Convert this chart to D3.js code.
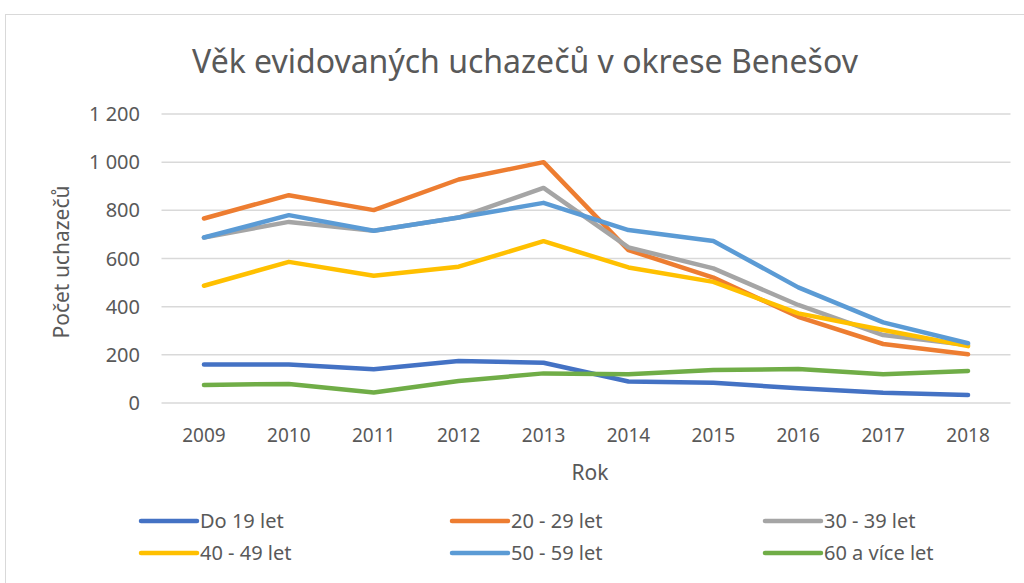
<!DOCTYPE html>
<html>
<head>
<meta charset="utf-8">
<script src="https://cdn.jsdelivr.net/npm/d3@7"></script>
<style>
  body { margin: 0; background: #fff; }
  svg { font-family: "Noto Sans", "Open Sans", sans-serif; }
</style>
</head>
<body>
<div id="chart"></div>
<script>
var years = ["2009","2010","2011","2012","2013","2014","2015","2016","2017","2018"];
var seriesNames = ["Do 19 let", "20 - 29 let", "30 - 39 let", "40 - 49 let", "50 - 59 let", "60 a více let"];
var do19  = [160, 160, 140, 174, 167, 89, 84, 61, 43, 33];
var v2029 = [766, 863, 801, 928, 1000, 635, 521, 358, 245, 202];
var v3039 = [687, 752, 715, 770, 893, 646, 559, 407, 282, 241];
var v4049 = [487, 586, 528, 566, 672, 563, 503, 372, 303, 236];
var v5059 = [687, 780, 715, 770, 831, 718, 673, 480, 335, 248];
var v60   = [75, 79, 44, 91, 123, 119, 137, 141, 119, 133];
var yTicks = [0, 200, 400, 600, 800, 1000, 1200];
var colors = ["#4472C4", "#ED7D31", "#A5A5A5", "#FFC000", "#5B9BD5", "#70AD47"];

var W = 1024, H = 583;
var svg = d3.select("#chart").append("svg").attr("width", W).attr("height", H);

// chart frame
svg.append("rect").attr("x", 5.5).attr("y", 14.5).attr("width", W + 10).attr("height", H + 10)
  .attr("fill", "#fff").attr("stroke", "#d9d9d9");

var x = d3.scalePoint().domain(years).range([161.5, 1010.5]).padding(0.5);
var y = d3.scaleLinear().domain([0, 1200]).range([403, 114]);

// gridlines
svg.append("g").selectAll("line").data(yTicks).enter().append("line")
  .attr("x1", 161.5).attr("x2", 1010.5)
  .attr("y1", function(d){ return y(d); }).attr("y2", function(d){ return y(d); })
  .attr("stroke", "#d9d9d9").attr("stroke-width", 1.5);

var fmt = function(d){ return d >= 1000 ? Math.floor(d/1000) + " " + d3.format("03")(d % 1000) : String(d); };

svg.append("g").selectAll("text").data(yTicks).enter().append("text")
  .attr("x", 140).attr("y", function(d){ return y(d); }).attr("dy", "0.35em")
  .attr("text-anchor", "end").attr("font-size", 20).attr("fill", "#595959")
  .text(fmt);

svg.append("g").selectAll("text").data(years).enter().append("text")
  .attr("x", function(d){ return x(d); }).attr("y", 442)
  .attr("text-anchor", "middle").attr("font-size", 19).attr("fill", "#595959")
  .text(function(d){ return d; });

// titles
svg.append("text").attr("x", 525).attr("y", 73).attr("text-anchor", "middle")
  .attr("font-size", 32).attr("fill", "#595959").text("Věk evidovaných uchazečů v okrese Benešov");
svg.append("text").attr("transform", "translate(69,262) rotate(-90)").attr("text-anchor", "middle")
  .attr("font-size", 21).attr("fill", "#595959").text("Počet uchazečů");
svg.append("text").attr("x", 590).attr("y", 480).attr("text-anchor", "middle")
  .attr("font-size", 21).attr("fill", "#595959").text("Rok");

var allSeries = [do19, v2029, v3039, v4049, v5059, v60];
var line = d3.line()
  .x(function(d, i){ return x(years[i]); })
  .y(function(d){ return y(d); });

// draw order as in Excel (first series at back)
svg.append("g").selectAll("path").data(allSeries).enter().append("path")
  .attr("d", line).attr("fill", "none")
  .attr("stroke", function(d, i){ return colors[i]; })
  .attr("stroke-width", 4.5).attr("stroke-linejoin", "round").attr("stroke-linecap", "round");

// legend
var legX = [141, 452, 765], legY = [521, 553];
var leg = svg.append("g").selectAll("g").data(seriesNames).enter().append("g")
  .attr("transform", function(d, i){ return "translate(" + legX[i % 3] + "," + legY[Math.floor(i / 3)] + ")"; });
leg.append("line").attr("x1", 0).attr("x2", 56).attr("y1", 0).attr("y2", 0)
  .attr("stroke", function(d, i){ return colors[i]; }).attr("stroke-width", 4.5).attr("stroke-linecap", "round");
leg.append("text").attr("x", 59).attr("y", 0).attr("dy", "0.35em")
  .attr("font-size", 20).attr("fill", "#595959").text(function(d){ return d; });
</script>
</body>
</html>
